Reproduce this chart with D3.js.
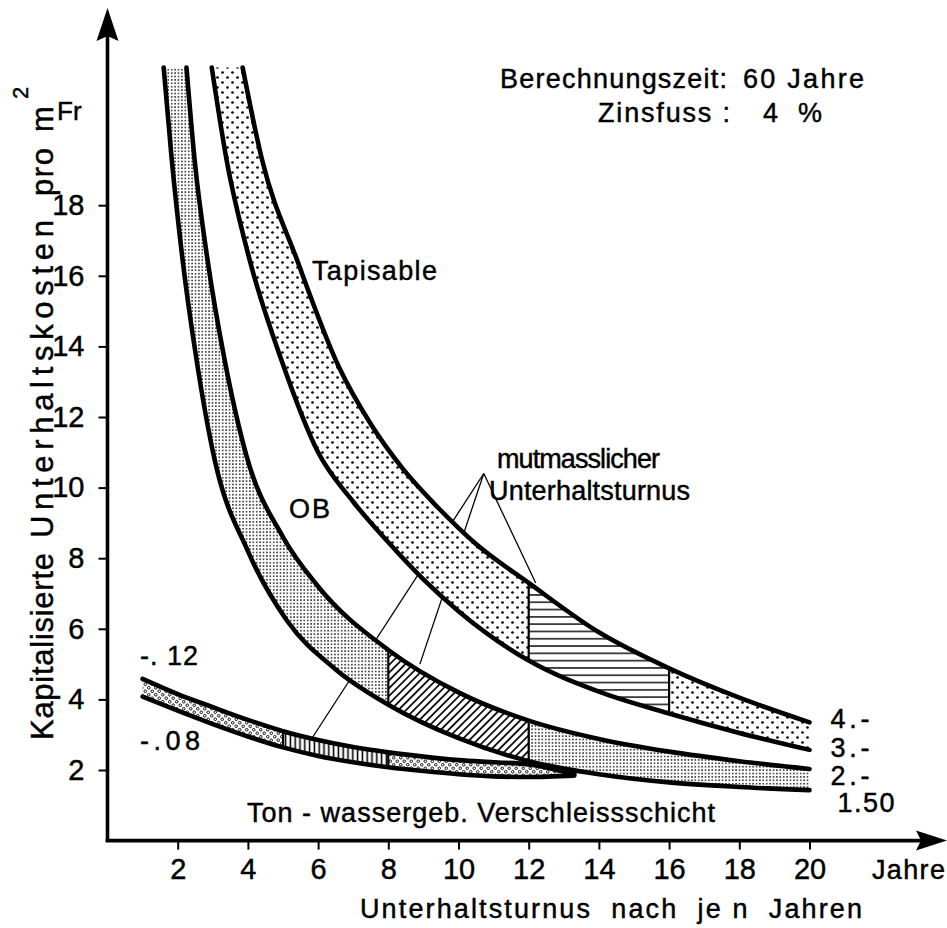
<!DOCTYPE html>
<html>
<head>
<meta charset="utf-8">
<script src="https://cdn.jsdelivr.net/npm/d3@7"></script>
<style>
  body { margin: 0; background: #fff; }
  text { font-family: "Liberation Sans", Arial, sans-serif; fill: #000; stroke: #000; stroke-width: 0.45; white-space: pre; }
</style>
</head>
<body>
<svg id="chart" width="947" height="928"></svg>
<script>
// capitalised maintenance cost (Fr/m2) against maintenance interval n (years)
const curve400 = [[3.85, 21.9], [4.4, 19.3], [5.4, 16.45], [6.6, 13.4], [7.5, 11.8], [8.4, 10.55], [9.4, 9.45], [10.5, 8.4], [12, 7.3], [14, 5.9], [16, 4.88], [18, 4.05], [20, 3.35]];
const curve300 = [[2.97, 21.9], [3.39, 19.3], [4.05, 16.45], [4.96, 13.6], [6, 11.0], [7, 9.6], [8, 8.45], [9, 7.4], [10, 6.5], [12, 5.1], [14, 4.22], [16, 3.6], [18, 3.05], [20, 2.57]];
const curve200 = [[2.25, 21.9], [2.48, 19.3], [2.85, 16.45], [3.34, 13.6], [3.96, 10.9], [5, 8.6], [6, 7.2], [8, 5.4], [10, 4.2], [12, 3.4], [14, 2.88], [16, 2.52], [18, 2.25], [20, 2.03]];
const curve150 = [[1.6, 21.9], [1.83, 19.3], [2.14, 16.45], [2.54, 13.6], [3.05, 10.8], [4, 8.2], [5.1, 6.25], [6.5, 4.85], [8, 3.85], [10, 2.9], [12, 2.25], [14, 1.88], [16, 1.65], [18, 1.52], [20, 1.43]];
const curveTon12 = [[1, 4.58], [2, 4.15], [3, 3.78], [4, 3.42], [5, 3.1], [6, 2.85], [7, 2.65], [8, 2.5], [9, 2.38], [10, 2.28], [11, 2.22], [12, 2.16], [13.3, 1.88]];
const curveTon08 = [[1, 4.08], [2, 3.68], [3, 3.3], [4, 2.95], [5, 2.64], [6, 2.4], [7, 2.22], [8, 2.08], [9, 1.97], [10, 1.88], [11, 1.82], [12, 1.8], [13.3, 1.84]];

// presumed maintenance interval per surface (years)
const turnusTapisable = [12, 16];
const turnusOB = [8, 12];
const turnusTon = [5, 8];

const xTicks = [2, 4, 6, 8, 10, 12, 14, 16, 18, 20];
const yTicks = [2, 4, 6, 8, 10, 12, 14, 16, 18];

// leader lines of "mutmasslicher Unterhaltsturnus"
const leaderApex = [10.72, 10.4];
const leaderEnds = [[5.76, 2.8], [8.9, 5.0], [12.2, 7.3]];

const svg = d3.select("#chart");
const x = d3.scaleLinear().domain([0, 20]).range([107.5, 809.5]);
const y = d3.scaleLinear().domain([0, 20]).range([840.6, 134.6]);

const defs = svg.append("defs");

function pattern(id, w, h, draw, transform) {
  const p = defs.append("pattern")
    .attr("id", id)
    .attr("patternUnits", "userSpaceOnUse")
    .attr("width", w)
    .attr("height", h);
  if (transform) p.attr("patternTransform", transform);
  p.append("rect").attr("width", w).attr("height", h).attr("fill", "#fff");
  draw(p);
}

pattern("coarse", 10, 10, p => {
  p.append("circle").attr("cx", 2.5).attr("cy", 2.5).attr("r", 1.35).attr("fill", "#000");
  p.append("circle").attr("cx", 7.5).attr("cy", 7.5).attr("r", 1.35).attr("fill", "#000");
});
pattern("ring", 7, 7, p => {
  p.append("circle").attr("cx", 1.75).attr("cy", 1.75).attr("r", 1.3).attr("fill", "none").attr("stroke", "#000").attr("stroke-width", 0.9);
  p.append("circle").attr("cx", 5.25).attr("cy", 5.25).attr("r", 1.3).attr("fill", "none").attr("stroke", "#000").attr("stroke-width", 0.9);
});
pattern("fine", 3.4, 3.4, p => {
  p.append("circle").attr("cx", 1.7).attr("cy", 1.7).attr("r", 0.8).attr("fill", "#000");
});
pattern("diag", 5.5, 5.5, p => {
  p.append("line").attr("x1", 2.75).attr("x2", 2.75).attr("y1", 0).attr("y2", 5.5).attr("stroke", "#000").attr("stroke-width", 1.7);
}, "rotate(45)");
pattern("horiz", 10, 7.3, p => {
  p.append("line").attr("x1", 0).attr("x2", 10).attr("y1", 3.65).attr("y2", 3.65).attr("stroke", "#000").attr("stroke-width", 1.4);
});
pattern("vert", 4.8, 10, p => {
  p.append("line").attr("x1", 2.4).attr("x2", 2.4).attr("y1", 0).attr("y2", 10).attr("stroke", "#000").attr("stroke-width", 1.6);
});

const line = d3.line()
  .x(d => x(d[0]))
  .y(d => y(d[1]))
  .curve(d3.curveMonotoneX);

function bandPath(upper, lower) {
  return line(upper) + line(lower.slice().reverse()).replace(/^M/, "L") + "Z";
}

const bands = [
  { id: "bandTap", upper: curve400, lower: curve300, cuts: turnusTapisable, base: "coarse", mark: "horiz" },
  { id: "bandOB", upper: curve200, lower: curve150, cuts: turnusOB, base: "fine", mark: "diag" },
  { id: "bandTon", upper: curveTon12, lower: curveTon08, cuts: turnusTon, base: "ring", mark: "vert" }
];

// leader lines go underneath the bands, which hide parts of them
const gLeader = svg.append("g");
leaderEnds.forEach(e => {
  gLeader.append("line")
    .attr("x1", x(leaderApex[0])).attr("y1", y(leaderApex[1]))
    .attr("x2", x(e[0])).attr("y2", y(e[1]))
    .attr("stroke", "#000").attr("stroke-width", 1.3);
});

bands.forEach(b => {
  const d = bandPath(b.upper, b.lower);
  defs.append("clipPath").attr("id", b.id + "Clip").append("path").attr("d", d);
  defs.append("clipPath").attr("id", b.id + "Mark").append("rect")
    .attr("x", x(b.cuts[0])).attr("y", 0)
    .attr("width", x(b.cuts[1]) - x(b.cuts[0])).attr("height", 928);

  svg.append("path").attr("d", d).attr("fill", "url(#" + b.base + ")");
  svg.append("g").attr("clip-path", "url(#" + b.id + "Clip)")
    .append("path").attr("d", d)
    .attr("clip-path", "url(#" + b.id + "Mark)")
    .attr("fill", "url(#" + b.mark + ")");
  svg.append("g").attr("clip-path", "url(#" + b.id + "Clip)")
    .selectAll("line").data(b.cuts).join("line")
    .attr("x1", d => x(d)).attr("x2", d => x(d))
    .attr("y1", 0).attr("y2", 928)
    .attr("stroke", "#000").attr("stroke-width", 2.2);
});

[curve400, curve300, curve200, curve150, curveTon12, curveTon08].forEach(c => {
  svg.append("path")
    .attr("d", line(c))
    .attr("fill", "none")
    .attr("stroke", "#000")
    .attr("stroke-width", 4.6)
    .attr("stroke-linecap", "round");
});

// axes
const x0 = x(0), y0 = y(0);
svg.append("line").attr("x1", x0).attr("x2", x0).attr("y1", y0 + 1.5).attr("y2", 36)
  .attr("stroke", "#000").attr("stroke-width", 3.6);
svg.append("line").attr("x1", x0 - 1.8).attr("x2", 922).attr("y1", y0).attr("y2", y0)
  .attr("stroke", "#000").attr("stroke-width", 3.6);
svg.append("path").attr("d", `M${x0},8 L${x0 + 11},41 L${x0},36 L${x0 - 11},41 Z`).attr("fill", "#000");
svg.append("path").attr("d", `M947,${y0} L916,${y0 - 10} L921,${y0} L916,${y0 + 10} Z`).attr("fill", "#000");

const gx = svg.append("g")
  .attr("transform", `translate(0,${y0})`)
  .call(d3.axisBottom(x).tickValues(xTicks).tickSize(9).tickPadding(9).tickFormat(d3.format("d")));
const gy = svg.append("g")
  .attr("transform", `translate(${x0},0)`)
  .call(d3.axisLeft(y).tickValues(yTicks).tickSize(9).tickPadding(14).tickFormat(d3.format("d")));
[gx, gy].forEach(g => {
  g.select(".domain").remove();
  g.attr("font-family", null).attr("font-size", 29);
  g.selectAll(".tick line").attr("stroke-width", 2);
});

// texts
function label(t, px, py, size, len) {
  const el = svg.append("text").attr("x", px).attr("y", py).attr("font-size", size).text(t);
  if (len) el.attr("textLength", len).attr("lengthAdjust", "spacing");
  return el;
}

label("Berechnungszeit:", 500, 88, 27, 227);
label("60 Jahre", 743, 88, 27, 121);
label("Zinsfuss :", 598, 122, 27, 132);
label("4 %", 763, 122, 27, 59);
label("Tapisable", 312, 280, 27, 125);
label("OB", 289, 518, 27, 41);
label("mutmasslicher", 497, 468, 27, 163);
label("Unterhaltsturnus", 489, 500, 27, 201);
label("-. 12", 140, 665, 27, 58);
label("-.08", 140, 750, 27, 60);
label("Ton - wassergeb. Verschleissschicht", 247, 822, 27, 468);
label("4.-", x(20) + 21, 728, 27, 39);
label("3.-", x(20) + 21, 757, 27, 39);
label("2.-", x(20) + 21, 785, 27, 39);
label("1.50", x(20) + 28, 812, 27, 57);
label("Jahre", 872, 879, 27, 73);
label("Unterhaltsturnus  nach  je n  Jahren", 360, 918, 27, 502);
label("Fr", 57, 120, 26);

// rotated y title, word by word: [word, bottom y, length]
const yTitleWords = [["Kapitalisierte", 740, 187], ["Unterhaltskosten", 538, 318], ["pro", 196, 48], ["m", 132, 0]];
yTitleWords.forEach(w => {
  const t = svg.append("text")
    .attr("transform", `translate(53,${w[1]}) rotate(-90)`)
    .attr("font-size", 31)
    .text(w[0]);
  if (w[2]) t.attr("textLength", w[2]).attr("lengthAdjust", "spacing");
});
svg.append("text")
  .attr("transform", "translate(28,99) rotate(-90)")
  .attr("font-size", 22)
  .text("2");
</script>
</body>
</html>
